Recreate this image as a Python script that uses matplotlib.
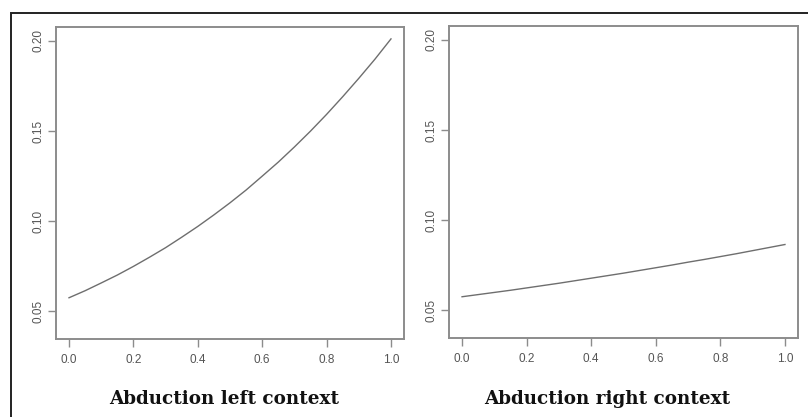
import matplotlib
matplotlib.use("Agg")
import matplotlib.pyplot as plt
from matplotlib.patches import Rectangle

# Data
x_vals = [0.0, 0.05, 0.1, 0.15, 0.2, 0.25, 0.3, 0.35, 0.4, 0.45, 0.5,
          0.55, 0.6, 0.65, 0.7, 0.75, 0.8, 0.85, 0.9, 0.95, 1.0]
left_vals = [0.0574, 0.0613, 0.0656, 0.0700, 0.0748, 0.0799, 0.0852, 0.0910,
             0.0970, 0.1034, 0.1101, 0.1172, 0.1249, 0.1327, 0.1411, 0.1499,
             0.1592, 0.1690, 0.1792, 0.1898, 0.2011]
right_vals = [0.0574, 0.0586, 0.0598, 0.0610, 0.0623, 0.0636, 0.0649, 0.0663,
              0.0677, 0.0691, 0.0705, 0.0720, 0.0735, 0.0750, 0.0766, 0.0781,
              0.0797, 0.0813, 0.0830, 0.0847, 0.0864]
x_ticks = [0.0, 0.2, 0.4, 0.6, 0.8, 1.0]
y_ticks = [0.05, 0.10, 0.15, 0.20]
titles = ["Abduction left context", "Abduction right context"]

W, H = 808, 417
fig = plt.figure(figsize=(W / 100, H / 100), dpi=100)
fig.patch.set_facecolor("white")

# outer frame (open at right and bottom edges, as in the reference)
fig.add_artist(Rectangle((11 / W, -0.1), 1.2, (417 - 13) / H + 0.1,
                         transform=fig.transFigure, fill=False,
                         edgecolor="#222222", linewidth=1.4))

def px_axes(x0, y0, x1, y1):
    return [x0 / W, (H - y1) / H, (x1 - x0) / W, (y1 - y0) / H]

rects = [px_axes(56, 27, 404, 339), px_axes(449, 26, 798, 338)]
series = [left_vals, right_vals]
title_pos = [(224, 399), (607, 399)]

for rect, vals, title, (tx, ty) in zip(rects, series, titles, title_pos):
    ax = fig.add_axes(rect)
    ax.plot(x_vals, vals, color="#6e6e6e", linewidth=1.0)
    ax.set_xlim(-0.0404, 1.0404)
    ax.set_ylim(0.0345, 0.2077)
    ax.set_xticks(x_ticks)
    ax.set_xticklabels([f"{v:.1f}" for v in x_ticks])
    ax.set_yticks(y_ticks)
    ax.set_yticklabels([f"{v:.2f}" for v in y_ticks], rotation=90, va="center")
    for s in ax.spines.values():
        s.set_color("#8c8c8c")
        s.set_linewidth(1.4)
    ax.tick_params(axis="both", direction="out", length=6, width=1.0,
                   color="#8c8c8c", labelcolor="#555555", labelsize=8.5)
    ax.tick_params(axis="x", pad=5)
    ax.tick_params(axis="y", pad=2)
    for lab in ax.get_xticklabels() + ax.get_yticklabels():
        lab.set_fontfamily("Liberation Sans")
    fig.text(tx / W, (H - ty) / H, title, ha="center", va="center",
             fontsize=13.2, fontweight="bold", family="DejaVu Serif",
             color="#111111")

fig.savefig("out.png", dpi=100, facecolor="white")
